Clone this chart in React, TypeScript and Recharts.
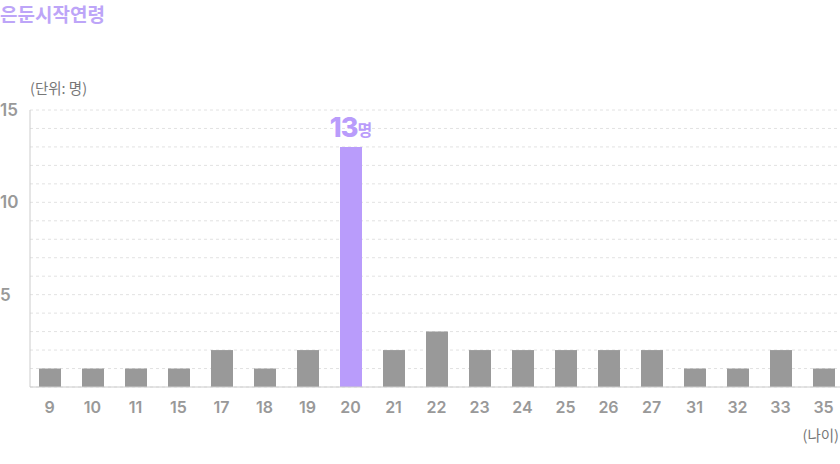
import React from "react";
import { BarChart, Bar, XAxis, YAxis, CartesianGrid, Cell, LabelList } from "recharts";

const ages = ["9", "10", "11", "15", "17", "18", "19", "20", "21", "22", "23", "24", "25", "26", "27", "31", "32", "33", "35"];
const counts = [1, 1, 1, 1, 2, 1, 2, 13, 2, 3, 2, 2, 2, 2, 2, 1, 1, 2, 1];
const yTicks = [0, 1, 2, 3, 4, 5, 6, 7, 8, 9, 10, 11, 12, 13, 14, 15];
const yLabels = [5, 10, 15];
const highlightAge = "20";

const data = ages.map((a, i) => ({ age: a, count: counts[i] }));

const NUM_FONT = "Inter, 'Noto Sans CJK KR', sans-serif";
const KR_FONT = "'Noto Sans CJK KR', sans-serif";
const PURPLE = "#b99cfb";
const GRAY = "#999999";

const YTick = (props: any) => {
  const { y, payload } = props;
  if (!yLabels.includes(payload.value)) return null;
  return (
    <text x={0} y={y} dy={6} textAnchor="start" fill="#999" fontSize={17} fontWeight={600} fontFamily={NUM_FONT}>
      {payload.value}
    </text>
  );
};

const XTick = (props: any) => {
  const { x, y, payload } = props;
  return (
    <text x={x} y={y} dy={18} textAnchor="middle" fill="#999" fontSize={16} fontWeight={600} fontFamily={NUM_FONT}>
      {payload.value}
    </text>
  );
};

const TopLabel = (props: any) => {
  const { x, y, width, index } = props;
  if (ages[index] !== highlightAge) return null;
  const cx = x + width / 2;
  return (
    <text x={cx} y={y - 10} textAnchor="middle" fill={PURPLE} fontFamily={NUM_FONT}>
      <tspan fontSize={27} fontWeight={800} letterSpacing={-1}>{counts[index]}</tspan>
      <tspan fontSize={16} fontWeight={700} fontFamily={KR_FONT} dy={-1}>명</tspan>
    </text>
  );
};

export default function App() {
  return (
    <div style={{ position: "absolute", left: 0, top: 0, width: 840, height: 464, background: "#fff", overflow: "hidden" }}>
      <div style={{ position: "absolute", left: 0, top: 1, fontFamily: KR_FONT, fontWeight: 700, fontSize: 19, color: "#bda5f8", lineHeight: "26px" }}>
        은둔시작연령
      </div>
      <div style={{ position: "absolute", left: 30, top: 78, fontFamily: KR_FONT, fontSize: 14.5, color: "#777", lineHeight: "20px" }}>
        (단위: 명)
      </div>
      <div style={{ position: "absolute", right: 1, top: 425, fontFamily: KR_FONT, fontSize: 14.5, color: "#777", lineHeight: "20px" }}>
        (나이)
      </div>
      <div style={{ position: "absolute", left: 0, top: 0 }}>
        <BarChart width={845} height={464} data={data} margin={{ top: 110, right: 0, bottom: 0, left: 0 }} barCategoryGap={0}>
          <CartesianGrid vertical={false} stroke="#e2e2e2" strokeDasharray="3 3" />
          <YAxis
            domain={[0, 15]}
            ticks={yTicks}
            interval={0}
            width={30}
            axisLine={{ stroke: "#cccccc" }}
            tickLine={false}
            tick={<YTick />}
          />
          <XAxis
            dataKey="age"
            height={77}
            padding={{ left: -2, right: 0 }}
            axisLine={{ stroke: "#cccccc" }}
            tickLine={false}
            interval={0}
            tick={<XTick />}
          />
          <Bar dataKey="count" barSize={22} isAnimationActive={false}>
            {data.map((d) => (
              <Cell key={d.age} fill={d.age === highlightAge ? PURPLE : GRAY} />
            ))}
            <LabelList dataKey="count" content={<TopLabel />} />
          </Bar>
        </BarChart>
      </div>
    </div>
  );
}
